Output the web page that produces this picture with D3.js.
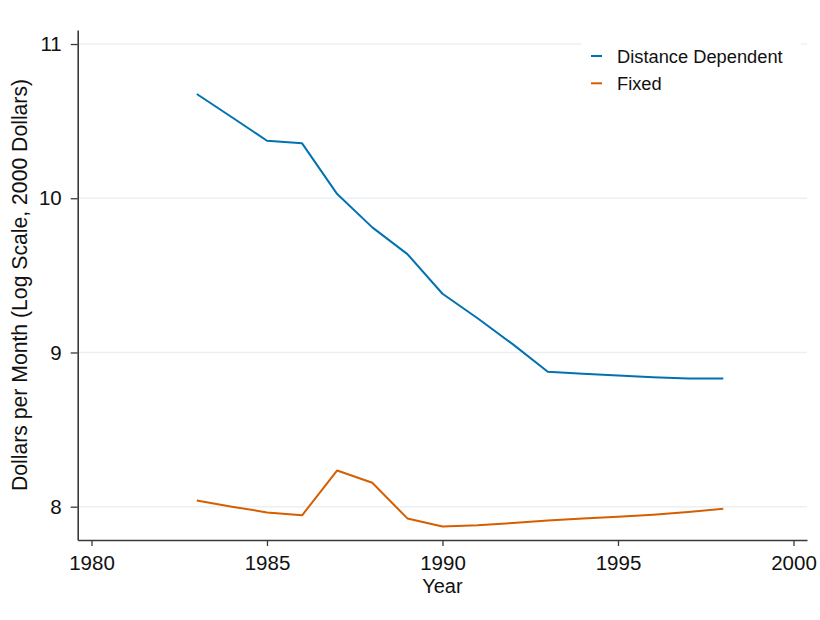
<!DOCTYPE html>
<html><head><meta charset="utf-8">
<script src="https://cdn.jsdelivr.net/npm/d3@7"></script>
<style>body{margin:0;background:#fff}svg{display:block}text{font-family:"Liberation Sans",Arial,Helvetica,sans-serif;fill:#111}</style>
</head><body>
<svg id="c" width="820" height="620"></svg>
<script>
const years = [1983,1984,1985,1986,1987,1988,1989,1990,1991,1992,1993,1994,1995,1996,1997,1998];
const distanceDependent = [10.676,10.525,10.373,10.356,10.027,9.811,9.638,9.381,9.222,9.054,8.875,8.862,8.851,8.839,8.832,8.832];
const fixed = [8.040,8.000,7.963,7.944,8.235,8.155,7.924,7.872,7.880,7.894,7.910,7.924,7.934,7.947,7.965,7.986];
const seriesNames = ["Distance Dependent","Fixed"];
const seriesColors = ["#0072B2","#D55E00"];
const xTicks = [1980,1985,1990,1995,2000];
const yTicks = [8,9,10,11];
const xTitle = "Year";
const yTitle = "Dollars per Month (Log Scale, 2000 Dollars)";

const svg = d3.select("#c");
const x = d3.scaleLinear().domain([1979.607, 2000.385]).range([77.7, 807]);
const y = d3.scaleLinear().domain([7.784, 11.091]).range([540, 30]);

// gridlines
svg.append("g").selectAll("line").data(yTicks).join("line")
  .attr("x1", x.range()[0]).attr("x2", x.range()[1])
  .attr("y1", d => y(d)).attr("y2", d => y(d))
  .attr("stroke", "#eaf0f4").attr("stroke-width", 1.5);

// lines
const series = [distanceDependent, fixed];
const line = d3.line().x((d,i) => x(years[i])).y(d => y(d));
series.forEach((s, k) => {
  svg.append("path").datum(s).attr("d", line)
    .attr("fill", "none").attr("stroke", seriesColors[k])
    .attr("stroke-width", 2).attr("stroke-linejoin", "round");
});

// axes
const xa = svg.append("g").attr("transform", `translate(0,${y.range()[0]})`)
  .call(d3.axisBottom(x).tickValues(xTicks).tickFormat(d3.format("d")).tickSize(6).tickPadding(9).tickSizeOuter(0));
const ya = svg.append("g").attr("transform", `translate(${x.range()[0]},0)`)
  .call(d3.axisLeft(y).tickValues(yTicks).tickFormat(d3.format("d")).tickSize(7).tickPadding(9).tickSizeOuter(0));
[xa, ya].forEach(a => {
  a.select(".domain").attr("stroke", "#3a3a3a").attr("stroke-width", 1.6);
  a.selectAll(".tick line").attr("stroke", "#3a3a3a").attr("stroke-width", 1.3);
  a.selectAll(".tick text").attr("font-size", 20.5).attr("fill", "#111")
    .style("font-family", '"Liberation Sans",Arial,sans-serif');
});

// titles
svg.append("text").attr("x", (x.range()[0]+x.range()[1])/2).attr("y", 593)
  .attr("text-anchor", "middle").attr("font-size", 20).text(xTitle);
svg.append("text").attr("transform", `translate(27,${(y.range()[0]+y.range()[1])/2}) rotate(-90)`)
  .attr("text-anchor", "middle").attr("font-size", 21.2).text(yTitle);

// legend
const lg = svg.append("g");
lg.append("rect").attr("x", 582).attr("y", 32).attr("width", 219).attr("height", 68).attr("fill", "#fff");
seriesNames.forEach((n, k) => {
  const cy = 56 + k * 27.3;
  lg.append("line").attr("x1", 591).attr("x2", 602).attr("y1", cy).attr("y2", cy)
    .attr("stroke", seriesColors[k]).attr("stroke-width", 2);
  lg.append("text").attr("x", 617).attr("y", cy + 6.5).attr("font-size", 18.3).text(n);
});
</script>
</body></html>
